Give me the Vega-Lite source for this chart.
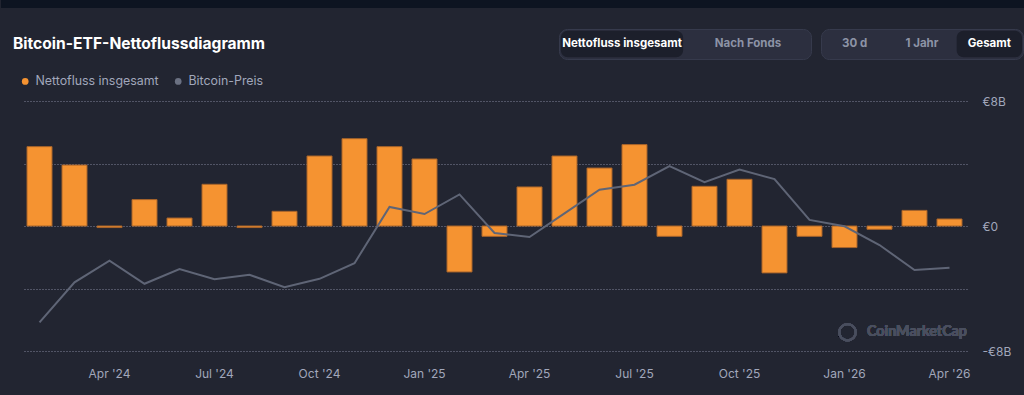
{
  "$schema": "https://vega.github.io/schema/vega-lite/v6.json",
  "background": "#222531",
  "padding": {"left": 0, "top": 0, "right": 0, "bottom": 17},
  "columns": 1,
  "align": "none",
  "spacing": 20,
  "config": {"view": {"stroke": null}, "font": "Inter"},
  "resolve": {"legend": {"color": "independent"}, "scale": {"color": "independent"}},
  "concat": [
    {
      "width": 1003,
      "height": 8,
      "data": {"values": [{"s": 1}]},
      "mark": {"type": "rect", "fill": "#0d1421", "clip": false},
      "encoding": {
        "x": {"datum": 0, "type": "quantitative", "scale": {"domain": [0.020508, 1], "nice": false, "zero": false}, "axis": null},
        "x2": {"datum": 1}
      }
    },
    {
      "columns": 1,
      "align": "none",
      "spacing": 15,
      "resolve": {"legend": {"color": "independent"}, "scale": {"color": "independent"}},
      "concat": [
        {
          "spacing": 8,
          "hconcat": [
            {
              "width": 528,
              "height": 30,
              "data": {"values": [{"t": "Bitcoin-ETF-Nettoflussdiagramm"}]},
              "mark": {"type": "text", "align": "left", "baseline": "middle", "font": "Inter", "fontSize": 15.6, "fontWeight": "bold", "color": "#ffffff"},
              "encoding": {
                "text": {"field": "t"},
                "x": {"datum": 0, "type": "quantitative", "scale": {"domain": [0.01676, 1], "nice": false, "zero": false}, "axis": null}
              }
            },
            {
              "width": 252,
              "height": 30,
              "view": {"fill": "#2c2f3f", "stroke": "#363a4c", "cornerRadius": 8},
              "data": {"values": [{"label": "Nettofluss insgesamt", "sel": 1}, {"label": "Nach Fonds", "sel": 0}]},
              "encoding": {"x": {"field": "label", "type": "nominal", "sort": null, "scale": {"paddingInner": 0.03, "paddingOuter": 0.015}, "axis": null}},
              "layer": [
                {
                  "mark": {"type": "rect", "cornerRadius": 7},
                  "encoding": {
                    "y": {"datum": 0, "type": "quantitative", "scale": {"domain": [-0.07, 1.07]}, "axis": null},
                    "y2": {"datum": 1},
                    "fill": {"condition": {"test": "datum.sel == 1", "value": "#1c1f2b"}, "value": "transparent"}
                  }
                },
                {
                  "mark": {"type": "text", "font": "Inter", "fontSize": 11.5, "fontWeight": "bold", "baseline": "middle"},
                  "encoding": {
                    "text": {"field": "label"},
                    "color": {"condition": {"test": "datum.sel == 1", "value": "#ffffff"}, "value": "#8c93a6"}
                  }
                }
              ]
            },
            {
              "width": 202,
              "height": 30,
              "view": {"fill": "#2c2f3f", "stroke": "#363a4c", "cornerRadius": 8},
              "data": {"values": [{"label": "30 d", "sel": 0}, {"label": "1 Jahr", "sel": 0}, {"label": "Gesamt", "sel": 1}]},
              "encoding": {"x": {"field": "label", "type": "nominal", "sort": null, "scale": {"paddingInner": 0.03, "paddingOuter": 0.015}, "axis": null}},
              "layer": [
                {
                  "mark": {"type": "rect", "cornerRadius": 7},
                  "encoding": {
                    "y": {"datum": 0, "type": "quantitative", "scale": {"domain": [-0.07, 1.07]}, "axis": null},
                    "y2": {"datum": 1},
                    "fill": {"condition": {"test": "datum.sel == 1", "value": "#1c1f2b"}, "value": "transparent"}
                  }
                },
                {
                  "mark": {"type": "text", "font": "Inter", "fontSize": 11.5, "fontWeight": "bold", "baseline": "middle"},
                  "encoding": {
                    "text": {"field": "label"},
                    "color": {"condition": {"test": "datum.sel == 1", "value": "#ffffff"}, "value": "#8c93a6"}
                  }
                }
              ]
            }
          ]
        },
        {
          "width": 945,
          "height": 250,
          "data": {
            "values": [
              {"m": "2024-02", "flow": 5.08, "price": 40000},
              {"m": "2024-03", "flow": 3.9, "price": 56900},
              {"m": "2024-04", "flow": -0.1, "price": 66100},
              {"m": "2024-05", "flow": 1.69, "price": 56300},
              {"m": "2024-06", "flow": 0.51, "price": 62500},
              {"m": "2024-07", "flow": 2.67, "price": 58200},
              {"m": "2024-08", "flow": -0.1, "price": 60100},
              {"m": "2024-09", "flow": 0.94, "price": 54800},
              {"m": "2024-10", "flow": 4.48, "price": 58400},
              {"m": "2024-11", "flow": 5.59, "price": 65000},
              {"m": "2024-12", "flow": 5.08, "price": 88800},
              {"m": "2025-01", "flow": 4.29, "price": 85800},
              {"m": "2025-02", "flow": -2.94, "price": 94100},
              {"m": "2025-03", "flow": -0.66, "price": 77800},
              {"m": "2025-04", "flow": 2.5, "price": 76100},
              {"m": "2025-05", "flow": 4.48, "price": 86100},
              {"m": "2025-06", "flow": 3.71, "price": 96100},
              {"m": "2025-07", "flow": 5.21, "price": 98200},
              {"m": "2025-08", "flow": -0.66, "price": 106100},
              {"m": "2025-09", "flow": 2.54, "price": 99300},
              {"m": "2025-10", "flow": 2.99, "price": 104600},
              {"m": "2025-11", "flow": -3.0, "price": 100600},
              {"m": "2025-12", "flow": -0.66, "price": 83300},
              {"m": "2026-01", "flow": -1.38, "price": 80600},
              {"m": "2026-02", "flow": -0.21, "price": 72700},
              {"m": "2026-03", "flow": 1.0, "price": 62100},
              {"m": "2026-04", "flow": 0.45, "price": 63100}
            ]
          },
          "encoding": {
            "x": {
              "field": "m",
              "type": "ordinal",
              "scale": {"paddingInner": 0.2857, "paddingOuter": 0.1429},
              "axis": {
                "title": null,
                "domain": false,
                "ticks": false,
                "grid": false,
                "labelAngle": 0,
                "labelOverlap": false,
                "labelColor": "#a1a7bb",
                "labelFont": "Inter",
                "labelFontSize": 12,
                "labelPadding": 17,
                "labelExpr": "slice(datum.value,5)=='01' ? \"Jan '\" + slice(datum.value,2,4) : slice(datum.value,5)=='04' ? \"Apr '\" + slice(datum.value,2,4) : slice(datum.value,5)=='07' ? \"Jul '\" + slice(datum.value,2,4) : slice(datum.value,5)=='10' ? \"Oct '\" + slice(datum.value,2,4) : ''"
              }
            }
          },
          "layer": [
            {
              "mark": {"type": "bar", "stroke": "#a7642b", "strokeWidth": 1},
              "encoding": {
                "y": {
                  "field": "flow",
                  "type": "quantitative",
                  "scale": {"domain": [-8, 8], "nice": false},
                  "axis": {
                    "orient": "right",
                    "title": null,
                    "domain": false,
                    "ticks": false,
                    "values": [-8, -4, 0, 4, 8],
                    "grid": true,
                    "gridColor": "#80859a",
                    "gridDash": [1, 2],
                    "gridWidth": 1,
                    "labelColor": "#a1a7bb",
                    "labelFont": "Inter",
                    "labelFontSize": 12,
                    "labelPadding": 15,
                    "labelExpr": "datum.value == 8 ? '€8B' : datum.value == 0 ? '€0' : datum.value == -8 ? '-€8B' : ''"
                  }
                },
                "color": {
                  "datum": "Nettofluss insgesamt",
                  "type": "nominal",
                  "scale": {"domain": ["Nettofluss insgesamt", "Bitcoin-Preis"], "range": ["#f59331", "#6b7182"]},
                  "legend": {
                    "orient": "none",
                    "legendX": -3,
                    "legendY": -26,
                    "direction": "horizontal",
                    "title": null,
                    "symbolType": "circle",
                    "symbolSize": 45,
                    "symbolStrokeWidth": 0,
                    "labelColor": "#a1a7bb",
                    "labelFont": "Inter",
                    "labelFontSize": 12.4,
                    "labelOffset": 4,
                    "columnPadding": 13,
                    "padding": 0
                  }
                }
              }
            },
            {
              "mark": {"type": "line", "color": "#5f6576", "strokeWidth": 2},
              "encoding": {
                "y": {
                  "field": "price",
                  "type": "quantitative",
                  "scale": {"domain": [27860, 133610], "nice": false, "zero": false},
                  "axis": {"orient": "left", "labels": false, "ticks": false, "domain": false, "grid": false, "title": null, "minExtent": 21, "maxExtent": 21}
                }
              }
            },
            {
              "mark": {"type": "point", "shape": "circle", "filled": false, "stroke": "#4a4f5f", "strokeWidth": 2.2, "size": 270},
              "encoding": {
                "x": {"datum": "2026-01", "bandPosition": 0.62},
                "y": {"datum": -6.8, "type": "quantitative", "scale": {"domain": [-8, 8], "nice": false}, "axis": null}
              }
            },
            {
              "mark": {"type": "text", "text": "CoinMarketCap", "align": "left", "baseline": "middle", "font": "Lato", "fontSize": 14.3, "fontWeight": "bold", "color": "#4a4f5f"},
              "encoding": {
                "x": {"datum": "2026-02", "bandPosition": 0},
                "y": {"datum": -6.8, "type": "quantitative", "scale": {"domain": [-8, 8], "nice": false}, "axis": null}
              }
            }
          ],
          "resolve": {"scale": {"y": "independent"}}
        }
      ]
    }
  ]
}
